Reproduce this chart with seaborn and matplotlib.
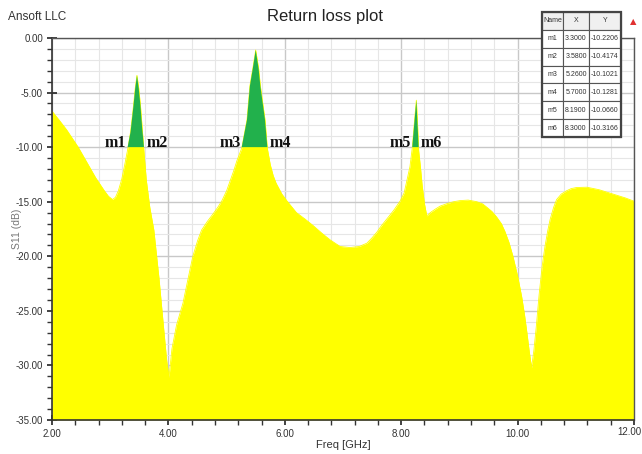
import numpy as np
import pandas as pd
import matplotlib
matplotlib.use("Agg")
import matplotlib.pyplot as plt
from matplotlib.ticker import MultipleLocator, FuncFormatter, FormatStrFormatter
import seaborn as sns

# S11 curve (GHz, dB)
freq = [2.00, 2.12, 2.25, 2.45, 2.60, 2.75, 2.90, 2.97, 3.04, 3.09, 3.14, 3.20, 3.25,
        3.30, 3.35, 3.40, 3.43, 3.46, 3.49, 3.52, 3.55, 3.58,
        3.62, 3.68, 3.75, 3.84, 3.92, 3.97, 4.01, 4.06, 4.14, 4.25, 4.34, 4.42, 4.50,
        4.57, 4.67, 4.77, 4.85, 4.92, 5.00, 5.06, 5.12, 5.18,
        5.26, 5.35, 5.40, 5.45, 5.50, 5.55, 5.58, 5.66, 5.70,
        5.75, 5.80, 5.85, 5.95, 6.04, 6.20, 6.35, 6.49, 6.64, 6.78, 6.95, 7.12, 7.28,
        7.41, 7.50, 7.58, 7.66, 7.75, 7.87, 7.98, 8.05, 8.10, 8.15,
        8.19, 8.23, 8.26, 8.28, 8.30,
        8.33, 8.36, 8.40, 8.44, 8.50, 8.58, 8.67, 8.80, 8.90, 9.01, 9.15, 9.30, 9.40,
        9.47, 9.56, 9.64, 9.72, 9.78, 9.85, 9.92, 10.00, 10.07, 10.12, 10.16, 10.20,
        10.24, 10.28, 10.32, 10.37, 10.42, 10.47, 10.52, 10.56, 10.62, 10.67, 10.75,
        10.84, 10.92, 11.01, 11.19, 11.40, 11.64, 11.85, 12.00]
s11 = [-6.7, -7.5, -8.4, -10.0, -11.4, -12.8, -14.0, -14.5, -14.8, -14.6, -14.0, -12.9, -11.6,
       -10.22, -8.6, -6.2, -4.6, -3.42, -4.6, -6.2, -8.3, -10.42,
       -13.0, -15.5, -17.6, -22.1, -26.7, -29.5, -31.1, -28.5, -26.3, -24.3, -22.0, -20.0, -18.6,
       -17.6, -16.8, -16.1, -15.5, -14.9, -14.0, -13.1, -12.2, -11.2,
       -10.10, -7.5, -4.4, -2.8, -1.1, -2.8, -4.4, -7.5, -10.13,
       -11.6, -12.6, -13.3, -14.3, -14.95, -16.0, -16.6, -17.2, -17.9, -18.5, -19.1, -19.2, -19.1,
       -18.8, -18.3, -17.8, -17.2, -16.6, -15.8, -14.95, -14.2, -13.0, -11.8,
       -10.07, -7.5, -5.7, -7.8, -10.32,
       -11.8, -13.5, -15.2, -16.3, -16.0, -15.7, -15.4, -15.15, -15.0, -14.9, -14.85, -15.0, -15.2,
       -15.5, -15.9, -16.4, -17.0, -17.7, -18.7, -20.0, -21.8, -23.7, -25.4, -27.0, -28.7,
       -30.2, -28.6, -26.5, -23.5, -21.0, -19.1, -17.6, -16.6, -15.5, -14.8, -14.3,
       -14.0, -13.8, -13.7, -13.67, -13.9, -14.3, -14.65, -14.95]

# marker table
marker_names = ["m1", "m2", "m3", "m4", "m5", "m6"]
marker_x = [3.3000, 3.5800, 5.2600, 5.7000, 8.1900, 8.3000]
marker_y = [-10.2206, -10.4174, -10.1021, -10.1281, -10.0660, -10.3166]

df = pd.DataFrame({"Freq": freq, "S11": s11})

sns.set_style("white")
plt.rcParams["font.family"] = ["Liberation Sans Narrow", "Liberation Sans", "DejaVu Sans"]

fig = plt.figure(figsize=(6.42, 4.54), dpi=100)
ax = fig.add_axes([52 / 642, 1 - 420 / 454, 582 / 642, 382 / 454])

x = df["Freq"].to_numpy()
y = df["S11"].to_numpy()

# yellow area under the curve, green only between the marker pairs above -10 dB
ax.fill_between(x, y, -35, color="#ffff00", linewidth=0, zorder=2)
in_band = np.zeros(len(x), dtype=bool)
for lo, hi in zip(marker_x[0::2], marker_x[1::2]):
    in_band |= (x >= lo) & (x <= hi)
ax.fill_between(x, -10, np.maximum(y, -10), where=in_band,
                color="#22b14c", linewidth=0, zorder=3)
sns.lineplot(data=df, x="Freq", y="S11", ax=ax, color="#ffff00", linewidth=0.6,
             zorder=2, sort=False)

ax.set_xlim(2, 12)
ax.set_ylim(-35, 0)
ax.xaxis.set_major_locator(MultipleLocator(2))
ax.xaxis.set_minor_locator(MultipleLocator(0.4))
ax.yaxis.set_major_locator(MultipleLocator(5))
ax.yaxis.set_minor_locator(MultipleLocator(1))
# last x label is written separately so it stays inside the figure
ax.xaxis.set_major_formatter(FuncFormatter(lambda v, p: "" if v >= 11.99 else f"{v:.2f}"))
ax.yaxis.set_major_formatter(FormatStrFormatter("%.2f"))
ax.set_axisbelow(True)
ax.grid(which="major", color="#c8c8c8", linewidth=1.0)
ax.grid(which="minor", color="#e6e6e6", linewidth=0.8)

ax.tick_params(which="major", direction="inout", length=7, width=1.2,
               color="#222222", labelsize=7, labelcolor="#333333", pad=3)
ax.tick_params(which="minor", direction="out", length=3.5, width=1.0, color="#333333")
ax.tick_params(axis="y", which="both", left=True)
ax.tick_params(axis="x", which="both", bottom=True)
for side in ["left", "bottom"]:
    ax.spines[side].set_color("#333333")
    ax.spines[side].set_linewidth(1.2)
for side in ["top", "right"]:
    ax.spines[side].set_color("#555555")
    ax.spines[side].set_linewidth(1.0)

fig.text(641 / 642, 1 - 432 / 454, "12.00", fontsize=7, color="#333333",
         ha="right", va="center")

ax.set_xlabel("Freq [GHz]", fontsize=8, color="#333333", labelpad=1)
ax.set_ylabel("S11 (dB)", fontsize=7.5, color="#777777")
ax.yaxis.set_label_coords(-0.052, 0.5)

# marker labels
for i, (name, mx) in enumerate(zip(marker_names, marker_x)):
    left_side = i % 2 == 0
    ax.text(mx + (-0.02 if left_side else 0.04), -10.0, name,
            ha="right" if left_side else "left", va="baseline",
            fontsize=11.5, fontweight="bold", family=["Liberation Serif", "DejaVu Serif"],
            color="#111111", zorder=5)

fig.text(8 / 642, 1 - 17 / 454, "Ansoft LLC", fontsize=8.5, color="#333333",
         va="center", ha="left")
fig.text(325 / 642, 1 - 17 / 454, "Return loss plot", fontsize=12, color="#222222",
         va="center", ha="center")
fig.text(633 / 642, 1 - 22 / 454, "\u25b2", fontsize=6, color="#e03030",
         va="center", ha="center", family="DejaVu Sans")

# marker table
tax = fig.add_axes([542 / 642, 1 - 137 / 454, 79 / 642, 125 / 454])
tax.axis("off")
cells = [[n, f"{mx:.4f}", f"{my:.4f}"] for n, mx, my in zip(marker_names, marker_x, marker_y)]
tbl = tax.table(cellText=cells, colLabels=["Name", "X", "Y"], bbox=[0, 0, 1, 1],
                colWidths=[0.27, 0.32, 0.41], cellLoc="center")
tbl.auto_set_font_size(False)
for (r, c), cell in tbl.get_celld().items():
    cell.set_fontsize(5)
    cell.PAD = 0.02
    cell.set_edgecolor("#555555")
    cell.set_linewidth(0.8)
    cell.get_text().set_color("#333333")
    cell.set_facecolor("#f0f0f0" if r == 0 else "white")
tax.add_patch(plt.Rectangle((0, 0), 1, 1, transform=tax.transAxes, fill=False,
                            edgecolor="#444444", linewidth=1.6, clip_on=False))

fig.savefig("out.png", dpi=100)
